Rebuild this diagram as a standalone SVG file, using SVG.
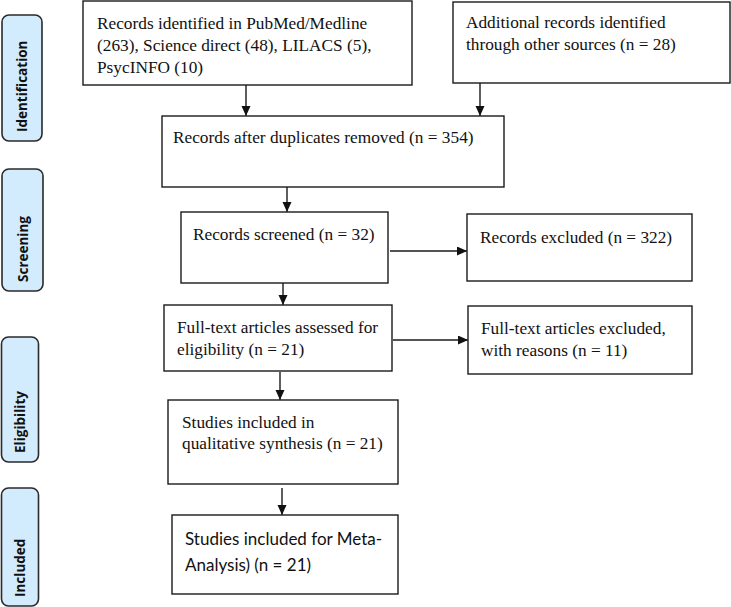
<svg xmlns="http://www.w3.org/2000/svg" width="731" height="607" viewBox="0 0 731 607">
<style>
.box{fill:#fff;stroke:#1a1a1a;stroke-width:1.4}
.lab{fill:#d2ebfd;stroke:#2a2a2a;stroke-width:1.6}
.t{font-family:"Liberation Serif","Times New Roman",serif;font-size:17.3px;fill:#111}
.s{font-family:Lato,"Liberation Sans",sans-serif;font-size:17px;fill:#111}
.lt{font-family:"Open Sans","Noto Sans",sans-serif;font-weight:bold;font-size:13.5px;fill:#111}
.c{stroke:#1a1a1a;stroke-width:1.4;fill:none;marker-end:url(#ah)}
</style>
<defs>
<marker id="ah" markerWidth="9" markerHeight="10" refX="10" refY="4.5" orient="auto" markerUnits="userSpaceOnUse">
<path d="M0,0 L10,4.5 L0,9 Z" fill="#111"/>
</marker>
</defs>
<g id="label-identification"><rect class="lab" x="2" y="15" width="40" height="126" rx="7"/><text class="lt" transform="translate(27,132) rotate(-90)">Identification</text></g>
<g id="label-screening"><rect class="lab" x="2" y="169" width="41" height="122" rx="7"/><text class="lt" transform="translate(28,282) rotate(-90)">Screening</text></g>
<g id="label-eligibility"><rect class="lab" x="1.5" y="337" width="37" height="125" rx="7"/><text class="lt" transform="translate(25,453) rotate(-90)">Eligibility</text></g>
<g id="label-included"><rect class="lab" x="1.5" y="488" width="37" height="118" rx="7"/><text class="lt" transform="translate(25,597) rotate(-90)">Included</text></g>
<g id="connectors">
<line class="c" x1="246" y1="85" x2="246" y2="116"/>
<line class="c" x1="480" y1="83" x2="480" y2="116"/>
<line class="c" x1="287" y1="187" x2="287" y2="212"/>
<line class="c" x1="390" y1="251" x2="467" y2="251"/>
<line class="c" x1="283" y1="283" x2="283" y2="305"/>
<line class="c" x1="393" y1="340" x2="468" y2="340"/>
<line class="c" x1="280" y1="372" x2="280" y2="400"/>
<line class="c" x1="282" y1="488" x2="282" y2="515"/>
</g>
<g id="n-records-identified"><rect class="box" x="83" y="1" width="329" height="84"/><text class="t" x="97" y="29">Records identified in PubMed/Medline</text><text class="t" x="97" y="51">(263), Science direct (48), LILACS (5),</text><text class="t" x="97" y="73">PsycINFO (10)</text></g>
<g id="n-additional"><rect class="box" x="453" y="2" width="277" height="81"/><text class="t" x="466" y="28">Additional records identified</text><text class="t" x="466" y="50">through other sources (n = 28)</text></g>
<g id="n-duplicates"><rect class="box" x="162" y="116" width="342" height="71"/><text class="t" x="173" y="143">Records after duplicates removed (n = 354)</text></g>
<g id="n-screened"><rect class="box" x="181" y="212" width="207" height="71"/><text class="t" x="193" y="240">Records screened (n = 32)</text></g>
<g id="n-excluded"><rect class="box" x="467" y="214" width="225" height="67"/><text class="t" x="480" y="243">Records excluded (n = 322)</text></g>
<g id="n-fulltext"><rect class="box" x="164" y="305" width="228" height="66"/><text class="t" x="177" y="333">Full-text articles assessed for</text><text class="t" x="177" y="355">eligibility (n = 21)</text></g>
<g id="n-fulltext-excluded"><rect class="box" x="468" y="306" width="224" height="68"/><text class="t" x="481" y="334">Full-text articles excluded,</text><text class="t" x="481" y="356">with reasons (n = 11)</text></g>
<g id="n-qualitative"><rect class="box" x="168" y="400" width="230" height="84"/><text class="t" x="182" y="428">Studies included in</text><text class="t" x="182" y="449">qualitative synthesis (n = 21)</text></g>
<g id="n-meta"><rect class="box" x="172" y="515" width="226" height="79"/><text class="s" x="185" y="545">Studies included for Meta-</text><text class="s" x="185" y="571">Analysis) (n = 21)</text></g>
</svg>
